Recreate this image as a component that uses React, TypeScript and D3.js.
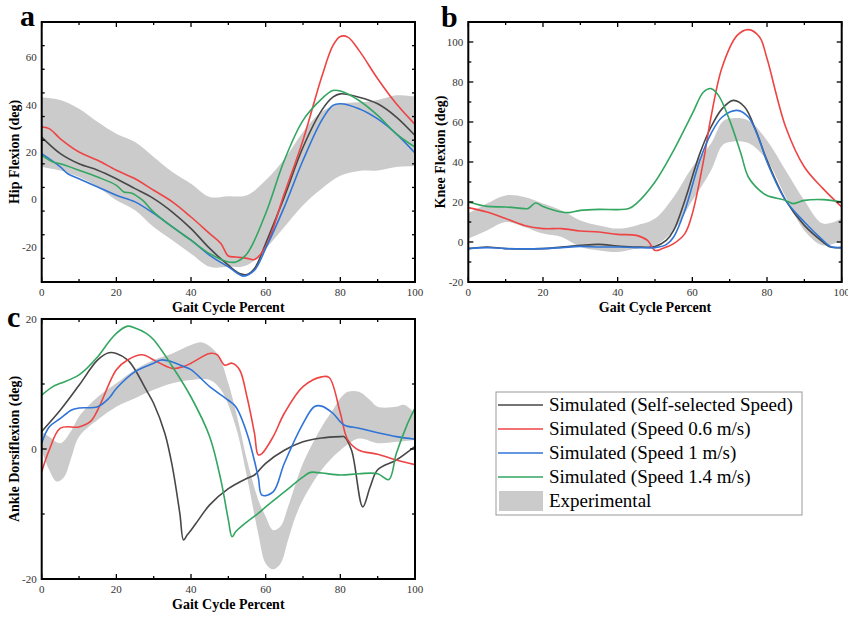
import React from "react";
import * as d3 from "d3";

type Pt = [number, number];

// ---- data (gait cycle %, degrees) ----
const hipBandUpper: Pt[] = [[0,43.2],[5,42],[10,38.3],[15,32.7],[20,27.7],[25,24.2],[30,17.9],[35,11.5],[40,6.6],[45,1],[50,1.3],[55,1.7],[60,8],[65,17],[70,28.5],[75,37],[80,40.4],[85,41],[90,42],[95,44],[100,43.5]];
const hipBandLower: Pt[] = [[0,13.7],[5,12.2],[10,9.4],[15,5.2],[20,-0.4],[25,-4.6],[30,-11.7],[35,-17.3],[40,-23],[45,-28.6],[50,-28.6],[55,-27.9],[60,-20.8],[65,-11.7],[70,-2.5],[75,4.5],[80,10],[85,12],[90,12.2],[95,13.7],[100,14]];
const hipSelf: Pt[] = [[0,26.3],[5,19.3],[10,15],[15,12.3],[20,8.7],[25,4.5],[30,0.3],[35,-5.4],[40,-12.4],[45,-20.8],[50,-27.9],[53,-31.4],[55,-31.8],[57,-29.3],[60,-18.7],[65,1],[70,22],[75,37.6],[78,43.2],[80,44.6],[85,43.2],[90,40.4],[95,34.8],[100,27]];
const hipSlow: Pt[] = [[0,30.6],[2,29.9],[5,25.6],[10,20],[15,16.5],[20,12.3],[25,8.7],[30,3.8],[35,-1.1],[40,-7.5],[45,-14.5],[48,-18.7],[50,-24],[52,-24.4],[55,-25],[57,-25.5],[60,-20],[65,2.4],[70,25],[75,51.7],[78,65],[80,68.9],[82,68.6],[85,63],[90,51],[95,40.4],[100,31.7]];
const hipMid: Pt[] = [[0,19.3],[5,13.7],[7,10.8],[10,8.7],[15,5.2],[20,1.7],[25,-1.1],[30,-6],[35,-11.7],[40,-17.3],[45,-23.7],[50,-28.6],[54,-32.5],[57,-30],[60,-20.8],[65,-3.2],[70,16.5],[75,33.4],[78,39.7],[80,40.4],[85,38.3],[90,34],[95,27.7],[100,19.6]];
const hipFast: Pt[] = [[0,18.6],[3,15.8],[5,15],[10,12.3],[15,9.4],[20,5.9],[22,3.1],[24,2.7],[27,-0.4],[30,-5.4],[35,-11.7],[40,-17.3],[45,-23],[50,-26.5],[52,-26.5],[55,-23],[60,-6],[65,16.5],[70,33.4],[75,42.5],[78,46],[80,45.8],[85,41.8],[90,35.5],[95,27.7],[100,22.1]];

const kneeBandUpper: Pt[] = [[0,14.2],[5,19.2],[10,23.3],[15,22.5],[20,19.2],[25,15.8],[30,10.8],[35,8.3],[40,6.7],[45,8.3],[50,11.7],[55,22.5],[60,37.5],[65,49.2],[68,60],[70,61.7],[75,60.8],[80,50.8],[85,35.8],[90,20.8],[95,9.2],[100,11.7]];
const kneeBandLower: Pt[] = [[0,1.7],[5,5.8],[10,10],[15,7.5],[20,4.2],[25,2.5],[30,-2.5],[35,-4.2],[40,-5],[45,-3.3],[50,-1.7],[55,5.8],[60,20.8],[65,35.8],[68,48.3],[70,50],[75,49.5],[80,40.8],[85,22.5],[90,5.8],[95,-1.7],[100,0.8]];
const kneeSelf: Pt[] = [[0,-3.3],[5,-2.5],[10,-3.3],[20,-3.3],[25,-2.5],[30,-1.7],[35,-1.2],[40,-2],[45,-2.5],[50,-2.2],[53,0.8],[55,5.8],[58,20.8],[62,44.2],[65,57.5],[68,66.7],[71,70.8],[74,67.5],[77,55.8],[80,40.8],[85,20.8],[90,8.3],[95,0],[97,-2.5],[100,-2.8]];
const kneeSlow: Pt[] = [[0,17.2],[5,15],[10,11.7],[15,8.3],[20,6.7],[25,6.7],[30,5.5],[35,5],[40,3.8],[45,3.3],[48,0.8],[50,-4.2],[52,-3.3],[55,-0.8],[58,4.2],[60,14.2],[63,40.8],[65,62.5],[68,87.5],[72,103.3],[75,106.2],[78,102.5],[80,91.7],[85,57.5],[90,37.5],[95,26.7],[100,17.5]];
const kneeMid: Pt[] = [[0,-3.3],[5,-2.8],[10,-3.3],[20,-3.3],[25,-2.8],[30,-2.2],[35,-2.5],[40,-2.5],[45,-2.8],[50,-2.8],[53,-1.3],[55,2.5],[58,15.8],[62,40.8],[65,54.2],[68,62.5],[72,65.8],[75,62.5],[78,50.8],[80,40],[85,20.8],[90,10],[95,0.8],[97,-2.2],[100,-2.8]];
const kneeFast: Pt[] = [[0,20],[5,17.8],[10,17.5],[15,16.7],[16,16.7],[18,19.5],[20,17.8],[25,15],[27,14.7],[30,15.8],[35,16.3],[40,16.2],[43,16.7],[45,19.2],[50,30],[55,45.8],[60,64.2],[63,75],[65,76.7],[67,73.3],[70,60.8],[73,44.2],[75,32.5],[78,25.8],[80,23.3],[85,20.8],[87,19.2],[90,20.8],[95,21.2],[100,20]];

const ankleBandUpper: Pt[] = [[0,2.7],[2,1.9],[5,0.9],[8,2.9],[10,5],[15,8],[20,10.1],[25,12.2],[30,13.7],[35,14.7],[40,16],[43,16.4],[47,14.7],[50,10.1],[53,3.4],[55,-1.7],[58,-7.8],[60,-10.4],[62,-12.5],[64,-11.9],[66,-8.9],[70,-2.2],[75,3.4],[78,6],[80,7.8],[82,8.8],[85,8.8],[88,7.5],[90,6.5],[95,6.5],[97,6.8],[100,5.5]];
const ankleBandLower: Pt[] = [[0,-0.2],[2,-3.2],[4,-5],[6,-4.3],[8,-1.2],[10,1.9],[15,4.5],[20,6.5],[25,7.8],[30,9.1],[35,10.1],[40,10.6],[45,10.6],[48,9.1],[52,3.4],[55,-4.3],[58,-13],[60,-17.6],[62,-18.5],[64,-17.6],[66,-14],[68,-10.4],[70,-7.8],[75,-3.2],[80,-0.2],[85,1.6],[90,0.9],[95,1.1],[100,1.4]];
const ankleSelf: Pt[] = [[0,2.7],[5,6],[10,9.8],[15,13.7],[18,14.8],[20,14.7],[23,13.7],[25,12.2],[28,9.1],[30,7],[33,2.4],[35,-2.7],[37,-9.9],[38,-14],[39,-13.2],[40,-12.5],[42,-10.9],[45,-8.6],[50,-6.1],[55,-4.5],[57,-4],[60,-2.2],[65,-0.2],[70,1.1],[75,1.7],[80,1.9],[81,1.9],[83,-0.2],[86,-8.9],[88,-5.8],[90,-3.2],[95,-1.7],[100,0.4]];
const ankleSlow: Pt[] = [[0,-3.5],[2,-0.2],[5,3.2],[10,3.4],[13,4.2],[15,6],[20,12.2],[23,13.7],[27,14.5],[30,13.7],[35,12.4],[38,12.7],[40,13.2],[45,14.7],[47,14.5],[49,12.9],[51,13.2],[53,12.2],[55,8],[57,2.4],[58,-0.9],[59,-0.7],[62,1.9],[65,5.5],[70,9.6],[75,11.1],[77,11],[80,5.5],[82,1.4],[85,-0.2],[90,-0.8],[95,-1.7],[100,-2.4]];
const ankleMid: Pt[] = [[0,0.9],[2,3.4],[5,4.7],[8,6],[10,6.3],[15,6.5],[18,7.8],[20,9.3],[25,11.9],[30,13.2],[32,13.7],[35,13.4],[38,12.7],[40,12.2],[45,9.6],[50,7.5],[52,6.5],[55,2.4],[58,-4.3],[59,-7.1],[62,-6.6],[65,-2.2],[70,3.9],[73,6.5],[75,6.6],[78,5.5],[81,3.7],[85,3.2],[90,2.5],[95,1.9],[100,1.5]];
const ankleFast: Pt[] = [[0,8.3],[3,9.6],[5,10.1],[10,11.4],[15,14.2],[18,16.5],[20,17.8],[23,18.9],[25,18.6],[28,17.8],[30,16.8],[35,12.7],[40,8],[45,1.9],[48,-4.8],[50,-10.9],[51,-13.5],[52,-12.7],[55,-11.2],[58,-9.9],[60,-8.9],[65,-6.6],[70,-4.3],[72,-3.6],[75,-3.7],[80,-4],[85,-3.8],[90,-3.8],[93,-4.7],[95,-0.7],[98,3.9],[100,6.3]];

const seriesNames = [
  "Simulated (Self-selected Speed)",
  "Simulated (Speed 0.6 m/s)",
  "Simulated (Speed 1 m/s)",
  "Simulated (Speed 1.4 m/s)",
];
const bandName = "Experimental";
const colors = ["#474747", "#ee4444", "#2f74d6", "#33a661"];
const bandColor = "#cbcbcb";
const xTicks = [0, 20, 40, 60, 80, 100];

const font = "Liberation Serif";

const panels = [
  { letter: "a", title: "Hip Flexion (deg)", left: 41.7, right: 415, top: 22, bottom: 282, domain: [-35, 75], yTicks: [-20, 0, 20, 40, 60],
    upper: hipBandUpper, lower: hipBandLower, lines: [hipSelf, hipSlow, hipMid, hipFast], letterX: 20, letterY: 26 },
  { letter: "b", title: "Knee Flexion (deg)", left: 468.3, right: 841.7, top: 22, bottom: 282, domain: [-20, 110], yTicks: [-20, 0, 20, 40, 60, 80, 100],
    upper: kneeBandUpper, lower: kneeBandLower, lines: [kneeSelf, kneeSlow, kneeMid, kneeFast], letterX: 441, letterY: 27 },
  { letter: "c", title: "Ankle Dorsiflexion (deg)", left: 41.7, right: 415, top: 319, bottom: 579, domain: [-20, 20], yTicks: [-20, 0, 20],
    upper: ankleBandUpper, lower: ankleBandLower, lines: [ankleSelf, ankleSlow, ankleMid, ankleFast], letterX: 7, letterY: 327 },
];

function Panel({ p }: { p: (typeof panels)[number] }) {
  const x = d3.scaleLinear().domain([0, 100]).range([p.left, p.right]);
  const y = d3.scaleLinear().domain(p.domain).range([p.bottom, p.top]);
  const ln = d3.line<Pt>().x((d) => x(d[0])).y((d) => y(d[1])).curve(d3.curveCatmullRom);
  const top = ln(p.upper) as string;
  const bot = ln([...p.lower].reverse()) as string;
  const band = top + "L" + bot.slice(1) + "Z";

  const step = p.yTicks[1] - p.yTicks[0];
  const yAll = d3.range(p.domain[0], p.domain[1] + 0.01, step / 2).filter((v) => y(v) < p.bottom - 1 && y(v) > p.top + 1);
  const xMinor = d3.range(10, 100, 20);

  return (
    <g>
      <path d={band} fill={bandColor} stroke="none" />
      {p.lines.map((s, i) => (
        <path key={i} d={ln(s) as string} fill="none" stroke={colors[i]} strokeWidth={1.6} />
      ))}
      {/* ticks, inward on all four sides */}
      {xTicks.map((t) => (
        <g key={"xt" + t} stroke="#000" strokeWidth={1.3}>
          <line x1={x(t)} x2={x(t)} y1={p.bottom} y2={p.bottom - 5} />
          <line x1={x(t)} x2={x(t)} y1={p.top} y2={p.top + 5} />
        </g>
      ))}
      {xMinor.map((t) => (
        <g key={"xm" + t} stroke="#000" strokeWidth={1.3}>
          <line x1={x(t)} x2={x(t)} y1={p.bottom} y2={p.bottom - 3} />
          <line x1={x(t)} x2={x(t)} y1={p.top} y2={p.top + 3} />
        </g>
      ))}
      {yAll.map((t) => {
        const major = p.yTicks.includes(Math.round(t * 10) / 10);
        const len = major ? 5 : 3;
        return (
          <g key={"ym" + t} stroke="#000" strokeWidth={1.3}>
            <line x1={p.left} x2={p.left + len} y1={y(t)} y2={y(t)} />
            <line x1={p.right} x2={p.right - len} y1={y(t)} y2={y(t)} />
          </g>
        );
      })}
      <rect x={p.left} y={p.top} width={p.right - p.left} height={p.bottom - p.top} fill="none" stroke="#000" strokeWidth={2} />
      {xTicks.map((t) => (
        <text key={"xl" + t} x={x(t)} y={p.bottom + 14} textAnchor="middle" fontSize={11} fill="#333" fontFamily={font}>{t}</text>
      ))}
      {p.yTicks.map((t) => (
        <text key={"yl" + t} x={p.left - 5} y={y(t) + 4} textAnchor="end" fontSize={11} fill="#333" fontFamily={font}>{t}</text>
      ))}
      <text x={(p.left + p.right) / 2} y={p.bottom + 30} textAnchor="middle" fontSize={14} fontWeight="bold" fontFamily={font}>Gait Cycle Percent</text>
      <text transform={`translate(${p.left - 23},${(p.top + p.bottom) / 2}) rotate(-90)`} textAnchor="middle" fontSize={14} fontWeight="bold" fontFamily={font}>{p.title}</text>
      <text x={p.letterX} y={p.letterY} fontSize={30} fontWeight="bold" fontFamily={font}>{p.letter}</text>
    </g>
  );
}

function Legend() {
  const rows = d3.scaleLinear().domain([0, 4]).range([405, 501]);
  return (
    <g fontFamily={font} fontSize={19}>
      <rect x={496} y={392} width={306} height={123} fill="#fff" stroke="#999" strokeWidth={1} />
      {seriesNames.map((n, i) => (
        <g key={n}>
          <line x1={498} x2={543} y1={rows(i)} y2={rows(i)} stroke={colors[i]} strokeWidth={1.6} />
          <text x={549} y={rows(i) + 6}>{n}</text>
        </g>
      ))}
      <rect x={499} y={rows(4) - 10} width={44} height={20} fill={bandColor} />
      <text x={549} y={rows(4) + 6}>{bandName}</text>
    </g>
  );
}

export default function App() {
  return (
    <svg width={848} height={618} style={{ position: "absolute", left: 0, top: 0, background: "#fff" }}>
      {panels.map((p) => (
        <Panel key={p.letter} p={p} />
      ))}
      <Legend />
    </svg>
  );
}
